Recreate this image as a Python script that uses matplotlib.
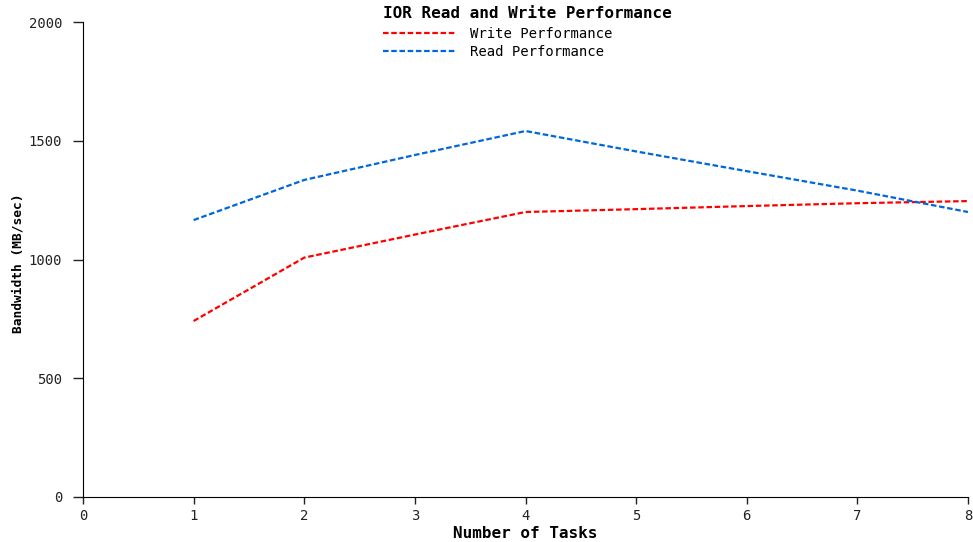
import matplotlib
matplotlib.use("Agg")
import matplotlib.pyplot as plt

tasks = [1, 2, 3, 4, 5, 6, 7, 8]
write_bw = [741, 1008, 1105, 1200, 1212, 1225, 1237, 1246]
read_bw = [1166, 1335, 1440, 1541, 1455, 1372, 1290, 1200]

plt.rcParams['font.family'] = 'DejaVu Sans Mono'

W, H = 973, 542
fig = plt.figure(figsize=(W / 100, H / 100), dpi=100)
ax = fig.add_axes([83 / W, 45 / H, 885 / W, 475 / H])

dash = (0, (2.5, 1.2))
ax.plot(tasks, write_bw, color='#ff0000', lw=1.6, linestyle=dash, label='Write Performance')
ax.plot(tasks, read_bw, color='#0066dd', lw=1.6, linestyle=dash, label='Read Performance')

ax.set_xlim(0, 8)
ax.set_ylim(0, 2000)
ax.set_xticks(range(0, 9))
ax.set_yticks([0, 500, 1000, 1500, 2000])
ax.spines['top'].set_visible(False)
ax.spines['right'].set_visible(False)
ax.tick_params(direction='out', labelsize=10, width=1, colors='#222222')
ax.tick_params(axis='y', length=7, pad=8)
ax.tick_params(axis='x', length=5, pad=4)

ax.set_xlabel('Number of Tasks', fontsize=11.5, fontweight='bold')
ax.xaxis.set_label_coords(0.5, -(533 - 497) / 475, transform=ax.transAxes)
ax.xaxis.label.set_va('center')
ax.set_ylabel('Bandwidth (MB/sec)', fontsize=9.3, fontweight='bold')
ax.yaxis.set_label_coords((18 - 83) / 885, (497 - 263) / 475)
ax.yaxis.label.set_va('center')
fig.text(527 / W, 1 - 14 / H, 'IOR Read and Write Performance', fontsize=11.5,
         fontweight='bold', ha='center', va='center')

ax.legend(loc='upper left', bbox_to_anchor=(383 / W, 1 - 27 / H),
          bbox_transform=fig.transFigure, frameon=False, borderpad=0,
          borderaxespad=0, fontsize=10, handlelength=5.2, handletextpad=1.1,
          labelspacing=0.3)

fig.savefig('out.png', dpi=100)
